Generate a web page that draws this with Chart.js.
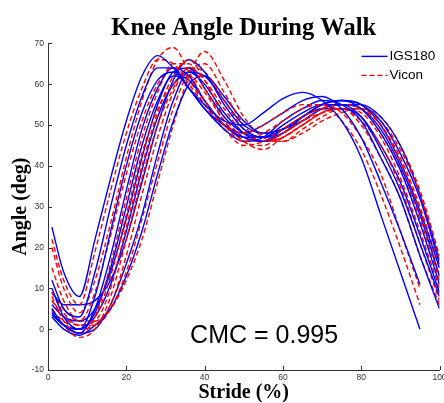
<!DOCTYPE html>
<html>
<head>
<meta charset="utf-8">
<script src="https://cdn.jsdelivr.net/npm/chart.js@4.4.0/dist/chart.umd.min.js"></script>
<style>
  html, body { margin: 0; padding: 0; background: #fff; }
  #wrap { width: 444px; height: 403px; }
</style>
</head>
<body>
<div id="wrap"><canvas id="c" width="444" height="403"></canvas></div>
<script>
// ---- data ----
const chartTitle = 'Knee Angle During Walk';
const xTitle = 'Stride (%)';
const yTitle = 'Angle (deg)';
const seriesNames = ['IGS180', 'Vicon'];
const annotationText = 'CMC = 0.995';
const annotationAt = [36.3, -3.3];

const stride = [1, 4, 8, 12, 16, 20, 24, 28, 32, 36, 40, 45, 50, 55, 60, 65, 70, 75, 80, 85, 90, 95, 100];

// IGS180 trials (blue, solid)
const igs1  = [25, 14, 8, 22, 37, 51, 62, 67, 64, 59, 55, 51, 50, 53, 56.5, 58, 56, 51, 42, 28, 14, 0, null];
const igs2  = [12, 5, 3, 14, 30, 45, 57, 64, 64, 59, 54, 50, 48, 50, 53, 56, 57, 54, 47, 36, 24, 11, null];
const igs3  = [10, 3, 0, 8, 24, 40, 53, 61, 63, 59, 54, 49, 46, 47, 51, 54, 56, 55, 51, 42, 32, 18, 5];
const igs4  = [5, 1, -1, 5, 18, 34, 49, 59, 64, 62, 56, 50, 47, 47, 50, 53, 55, 55, 52, 44, 34, 21, 8];
const igs5  = [4, 1, 0, 4, 15, 30, 45, 56, 62, 61, 56, 50, 47, 46, 49, 52, 54, 54, 52, 45, 36, 23, 9];
const igs6  = [6, 3, 2, 5, 14, 27, 42, 55, 63, 64, 59, 52, 48, 47, 49, 52, 55, 56, 54, 48, 39, 26, 11];
const igs7  = [3.5, 1, 0, 3, 11, 24, 39, 52, 60, 63, 60, 53, 48, 46, 48, 51, 54, 55, 54, 49, 40, 28, 13];
const igs8  = [9, 6, 6, 7, 12, 22, 36, 50, 61, 66, 63, 55, 49, 47, 48, 52, 55, 56, 55, 50, 41, 29, 15];
const igs9  = [4, 1, -1, 0, 6, 16, 28, 43, 56, 63, 62, 56, 50, 48, 49, 52, 55, 56, 55, 51, 43, 32, 16];
const igs10 = [3, 0, -1.5, 1, 5, 13, 24, 38, 51, 60, 62, 57, 51, 48, 49, 51, 54, 55, 55, 52, 45, 33, 17];

// Vicon trials (red, dashed)
const vicon1  = [22, 12, 6, 19, 34, 48, 59, 66, 65, 60, 55, 50, 48, 50, 53, 55, 55, 51, 44, 33, 20, 6, null];
const vicon2  = [20, 10, 4, 12, 26, 42, 56, 66, 69, 63, 56, 50, 46, 48, 51, 54, 55, 53, 47, 38, 24, 10, null];
const vicon3  = [15, 7, 2, 9, 23, 38, 51, 60, 64, 61, 55, 49, 45, 46, 49, 52, 54, 54, 50, 42, 32, 18, 6];
const vicon4  = [8, 2, -1, 3, 16, 32, 47, 58, 65, 65, 59, 51, 46, 45, 48, 51, 53, 54, 51, 45, 35, 21, 7];
const vicon5  = [7, 3, 1, 3, 13, 28, 43, 54, 60, 62, 58, 51, 46, 44, 47, 50, 53, 54, 53, 47, 37, 24, 10];
const vicon6  = [9, 4, 1, 2, 10, 25, 40, 53, 62, 66, 61, 52, 47, 46, 48, 51, 54, 55, 54, 48, 39, 27, 12];
const vicon7  = [5, 1, -2, 0, 8, 22, 37, 50, 59, 64, 61, 54, 48, 46, 47, 50, 53, 54, 54, 50, 41, 29, 13];
const vicon8  = [4.5, 2, 0, 1, 6, 18, 33, 47, 58, 64, 63, 56, 49, 46, 47, 50, 53, 55, 54, 50, 42, 30, 15];
const vicon9  = [7, 3, 1, 1, 5, 14, 27, 41, 54, 63, 65, 58, 50, 46, 46, 49, 52, 54, 54, 51, 44, 33, 17];
const vicon10 = [9, 5, 2, 2, 5, 12, 22, 36, 50, 62, 68, 61, 52, 47, 46, 48, 51, 53, 54, 52, 45, 34, 18];

const igsTrials = [igs1, igs2, igs3, igs4, igs5, igs6, igs7, igs8, igs9, igs10];
const viconTrials = [vicon1, vicon2, vicon3, vicon4, vicon5, vicon6, vicon7, vicon8, vicon9, vicon10];

// ---- styles ----
const BLUE = '#0000ff';
const RED = '#ff0000';
const serif = '"Liberation Serif", "Times New Roman", serif';
const sans = '"Liberation Sans", Arial, sans-serif';

const toPoints = (vals) => stride.map((x, i) => ({ x: x, y: vals[i] }));

const datasets = [];
for (let i = 0; i < igsTrials.length; i++) {
  datasets.push({
    label: seriesNames[0], data: toPoints(igsTrials[i]),
    borderColor: BLUE, borderWidth: 1.4, pointRadius: 0, fill: false,
    cubicInterpolationMode: 'monotone', spanGaps: false
  });
  datasets.push({
    label: seriesNames[1], data: toPoints(viconTrials[i]),
    borderColor: RED, borderWidth: 1.4, borderDash: [5, 3], pointRadius: 0, fill: false,
    cubicInterpolationMode: 'monotone', spanGaps: false
  });
}

const extras = {
  id: 'extras',
  afterDraw(chart) {
    const { ctx, chartArea: a, scales: { x, y } } = chart;
    ctx.save();
    // inward tick marks
    ctx.strokeStyle = '#333';
    ctx.lineWidth = 1;
    ctx.beginPath();
    y.ticks.forEach(t => {
      const py = Math.round(y.getPixelForValue(t.value)) + 0.5;
      ctx.moveTo(a.left, py); ctx.lineTo(a.left + 4, py);
    });
    x.ticks.forEach(t => {
      const px = Math.round(x.getPixelForValue(t.value)) + 0.5;
      ctx.moveTo(px, a.bottom); ctx.lineTo(px, a.bottom - 4);
    });
    ctx.stroke();

    // legend
    const lx0 = a.right - 78, lx1 = a.right - 52;
    const rows = [
      { name: seriesNames[0], color: BLUE, dash: [] , yy: a.top + 13 },
      { name: seriesNames[1], color: RED, dash: [5, 3], yy: a.top + 32 }
    ];
    rows.forEach(r => {
      ctx.beginPath();
      ctx.setLineDash(r.dash);
      ctx.strokeStyle = r.color;
      ctx.lineWidth = 1.4;
      ctx.moveTo(lx0, r.yy); ctx.lineTo(lx1, r.yy);
      ctx.stroke();
      ctx.setLineDash([]);
      ctx.fillStyle = '#000';
      ctx.font = '13.5px ' + sans;
      ctx.textBaseline = 'middle';
      ctx.textAlign = 'left';
      ctx.fillText(r.name, lx1 + 2, r.yy);
    });

    // CMC annotation
    ctx.fillStyle = '#000';
    ctx.font = '25px ' + sans;
    ctx.textBaseline = 'alphabetic';
    ctx.textAlign = 'left';
    ctx.fillText(annotationText, x.getPixelForValue(annotationAt[0]), y.getPixelForValue(annotationAt[1]));
    ctx.restore();
  }
};

new Chart(document.getElementById('c'), {
  type: 'line',
  data: { datasets },
  plugins: [extras],
  options: {
    responsive: false,
    animation: false,
    events: [],
    layout: { padding: { left: 0, right: 4.5, top: 0, bottom: 0 } },
    plugins: {
      legend: { display: false },
      tooltip: { enabled: false },
      title: {
        display: true, text: chartTitle, color: '#000', fullSize: false,
        font: { family: serif, size: 24.5, weight: 'bold', lineHeight: 1.2 },
        padding: { top: 14, bottom: 0 }
      }
    },
    scales: {
      x: {
        type: 'linear', min: 0, max: 100,
        ticks: { stepSize: 20, color: '#333', font: { family: sans, size: 8.5 }, padding: 3, maxRotation: 0 },
        grid: { display: false, drawTicks: false },
        border: { display: true, color: '#333', width: 1 },
        title: { display: true, text: xTitle, color: '#000',
          font: { family: serif, size: 20, weight: 'bold', lineHeight: 1 }, padding: { top: 0, bottom: 0 } },
        afterFit(s) { s.height = 33; s.paddingLeft = 0; s.paddingRight = 0; }
      },
      y: {
        type: 'linear', min: -10, max: 70,
        ticks: { stepSize: 10, color: '#333', font: { family: sans, size: 8.5 }, padding: 4 },
        grid: { display: false, drawTicks: false },
        border: { display: true, color: '#333', width: 1 },
        title: { display: true, text: yTitle, color: '#000',
          font: { family: serif, size: 20, weight: 'bold', lineHeight: 1.2 }, padding: { top: 9, bottom: 0 } },
        afterFit(s) { s.width = 48; s.paddingTop = 0; s.paddingBottom = 0; }
      }
    }
  }
});
</script>
</body>
</html>
